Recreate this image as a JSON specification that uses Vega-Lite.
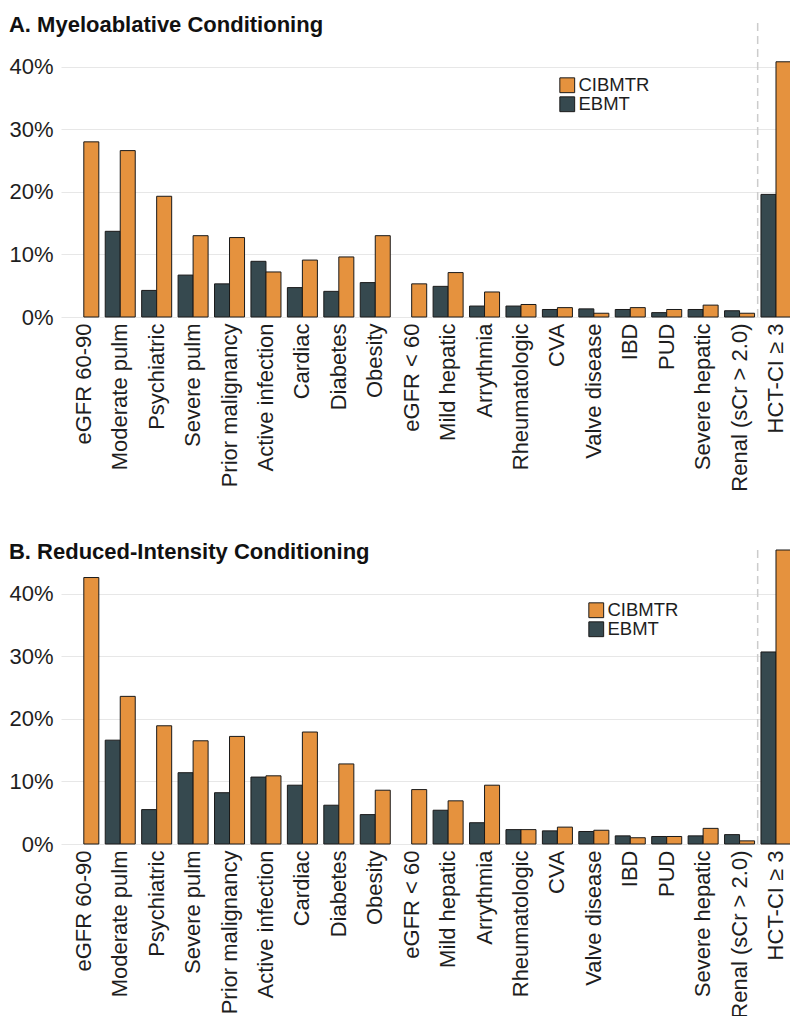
{
  "$schema": "https://vega.github.io/schema/vega-lite/v6.json",
  "autosize": {"type": "pad"},
  "padding": {"left": 8, "top": 14, "right": 0, "bottom": 0},
  "background": "white",
  "config": {
    "view": {"stroke": null},
    "font": "Liberation Sans",
    "axis": {"labelFont": "Liberation Sans", "labelColor": "#1e1e1e"},
    "legend": {"labelFont": "Liberation Sans"},
    "title": {"font": "Liberation Sans"}
  },
  "datasets": {
    "mac": [
      {"cat": "eGFR 60-90", "reg": "CIBMTR", "pct": 28.0},
      {"cat": "Moderate pulm", "reg": "EBMT", "pct": 13.7},
      {"cat": "Moderate pulm", "reg": "CIBMTR", "pct": 26.6},
      {"cat": "Psychiatric", "reg": "EBMT", "pct": 4.25},
      {"cat": "Psychiatric", "reg": "CIBMTR", "pct": 19.3},
      {"cat": "Severe pulm", "reg": "EBMT", "pct": 6.7},
      {"cat": "Severe pulm", "reg": "CIBMTR", "pct": 13.0},
      {"cat": "Prior malignancy", "reg": "EBMT", "pct": 5.3},
      {"cat": "Prior malignancy", "reg": "CIBMTR", "pct": 12.7},
      {"cat": "Active infection", "reg": "EBMT", "pct": 8.9},
      {"cat": "Active infection", "reg": "CIBMTR", "pct": 7.2},
      {"cat": "Cardiac", "reg": "EBMT", "pct": 4.7},
      {"cat": "Cardiac", "reg": "CIBMTR", "pct": 9.1},
      {"cat": "Diabetes", "reg": "EBMT", "pct": 4.1},
      {"cat": "Diabetes", "reg": "CIBMTR", "pct": 9.6},
      {"cat": "Obesity", "reg": "EBMT", "pct": 5.5},
      {"cat": "Obesity", "reg": "CIBMTR", "pct": 13.0},
      {"cat": "eGFR < 60", "reg": "CIBMTR", "pct": 5.3},
      {"cat": "Mild hepatic", "reg": "EBMT", "pct": 4.9},
      {"cat": "Mild hepatic", "reg": "CIBMTR", "pct": 7.1},
      {"cat": "Arrythmia", "reg": "EBMT", "pct": 1.75},
      {"cat": "Arrythmia", "reg": "CIBMTR", "pct": 4.0},
      {"cat": "Rheumatologic", "reg": "EBMT", "pct": 1.75},
      {"cat": "Rheumatologic", "reg": "CIBMTR", "pct": 2.0},
      {"cat": "CVA", "reg": "EBMT", "pct": 1.2},
      {"cat": "CVA", "reg": "CIBMTR", "pct": 1.5},
      {"cat": "Valve disease", "reg": "EBMT", "pct": 1.3},
      {"cat": "Valve disease", "reg": "CIBMTR", "pct": 0.6},
      {"cat": "IBD", "reg": "EBMT", "pct": 1.2},
      {"cat": "IBD", "reg": "CIBMTR", "pct": 1.5},
      {"cat": "PUD", "reg": "EBMT", "pct": 0.7},
      {"cat": "PUD", "reg": "CIBMTR", "pct": 1.2},
      {"cat": "Severe hepatic", "reg": "EBMT", "pct": 1.2},
      {"cat": "Severe hepatic", "reg": "CIBMTR", "pct": 1.9},
      {"cat": "Renal (sCr > 2.0)", "reg": "EBMT", "pct": 1.0},
      {"cat": "Renal (sCr > 2.0)", "reg": "CIBMTR", "pct": 0.6},
      {"cat": "HCT-CI ≥ 3", "reg": "EBMT", "pct": 19.6},
      {"cat": "HCT-CI ≥ 3", "reg": "CIBMTR", "pct": 40.8}
    ],
    "ric": [
      {"cat": "eGFR 60-90", "reg": "CIBMTR", "pct": 42.6},
      {"cat": "Moderate pulm", "reg": "EBMT", "pct": 16.6},
      {"cat": "Moderate pulm", "reg": "CIBMTR", "pct": 23.6},
      {"cat": "Psychiatric", "reg": "EBMT", "pct": 5.5},
      {"cat": "Psychiatric", "reg": "CIBMTR", "pct": 18.9},
      {"cat": "Severe pulm", "reg": "EBMT", "pct": 11.4},
      {"cat": "Severe pulm", "reg": "CIBMTR", "pct": 16.5},
      {"cat": "Prior malignancy", "reg": "EBMT", "pct": 8.2},
      {"cat": "Prior malignancy", "reg": "CIBMTR", "pct": 17.2},
      {"cat": "Active infection", "reg": "EBMT", "pct": 10.7},
      {"cat": "Active infection", "reg": "CIBMTR", "pct": 10.9},
      {"cat": "Cardiac", "reg": "EBMT", "pct": 9.4},
      {"cat": "Cardiac", "reg": "CIBMTR", "pct": 17.9},
      {"cat": "Diabetes", "reg": "EBMT", "pct": 6.2},
      {"cat": "Diabetes", "reg": "CIBMTR", "pct": 12.8},
      {"cat": "Obesity", "reg": "EBMT", "pct": 4.7},
      {"cat": "Obesity", "reg": "CIBMTR", "pct": 8.6},
      {"cat": "eGFR < 60", "reg": "CIBMTR", "pct": 8.7},
      {"cat": "Mild hepatic", "reg": "EBMT", "pct": 5.4},
      {"cat": "Mild hepatic", "reg": "CIBMTR", "pct": 6.9},
      {"cat": "Arrythmia", "reg": "EBMT", "pct": 3.4},
      {"cat": "Arrythmia", "reg": "CIBMTR", "pct": 9.4},
      {"cat": "Rheumatologic", "reg": "EBMT", "pct": 2.3},
      {"cat": "Rheumatologic", "reg": "CIBMTR", "pct": 2.3},
      {"cat": "CVA", "reg": "EBMT", "pct": 2.1},
      {"cat": "CVA", "reg": "CIBMTR", "pct": 2.7},
      {"cat": "Valve disease", "reg": "EBMT", "pct": 2.0},
      {"cat": "Valve disease", "reg": "CIBMTR", "pct": 2.2},
      {"cat": "IBD", "reg": "EBMT", "pct": 1.3},
      {"cat": "IBD", "reg": "CIBMTR", "pct": 1.0},
      {"cat": "PUD", "reg": "EBMT", "pct": 1.2},
      {"cat": "PUD", "reg": "CIBMTR", "pct": 1.2},
      {"cat": "Severe hepatic", "reg": "EBMT", "pct": 1.3},
      {"cat": "Severe hepatic", "reg": "CIBMTR", "pct": 2.5},
      {"cat": "Renal (sCr > 2.0)", "reg": "EBMT", "pct": 1.5},
      {"cat": "Renal (sCr > 2.0)", "reg": "CIBMTR", "pct": 0.5},
      {"cat": "HCT-CI ≥ 3", "reg": "EBMT", "pct": 30.7},
      {"cat": "HCT-CI ≥ 3", "reg": "CIBMTR", "pct": 47.0}
    ]
  },
  "vconcat": [
    {
      "width": 730,
      "height": 294,
      "title": {"text": "A. Myeloablative Conditioning", "anchor": "start", "frame": "bounds", "fontSize": 22, "fontWeight": "bold", "color": "#111", "offset": -15},
      "layer": [
        {
          "data": {"name": "mac"},
          "mark": {"type": "bar", "stroke": "#1a1a1a", "strokeWidth": 1},
          "encoding": {
            "x": {"field": "cat", "type": "nominal", "title": null,
              "scale": {"domain": ["eGFR 60-90", "Moderate pulm", "Psychiatric", "Severe pulm", "Prior malignancy", "Active infection", "Cardiac", "Diabetes", "Obesity", "eGFR < 60", "Mild hepatic", "Arrythmia", "Rheumatologic", "CVA", "Valve disease", "IBD", "PUD", "Severe hepatic", "Renal (sCr > 2.0)", "HCT-CI ≥ 3"], "paddingInner": 0.176, "paddingOuter": 0.107, "align": 1},
              "axis": {"labelAngle": -90, "labelFontSize": 22, "labelPadding": 6, "ticks": false, "domain": false, "grid": false, "labelOverlap": false}},
            "xOffset": {"field": "reg", "type": "nominal", "scale": {"domain": ["EBMT", "CIBMTR"], "paddingInner": 0, "paddingOuter": 0}},
            "y": {"field": "pct", "type": "quantitative", "title": null,
              "scale": {"domain": [0, 47], "nice": false},
              "axis": {"values": [0, 5, 10, 15, 20, 25, 30, 35, 40], "labelExpr": "datum.value % 10 === 0 ? datum.value + '%' : ''", "labelFontSize": 22, "labelPadding": 8, "ticks": false, "domain": false, "grid": true, "gridColor": {"condition": {"test": "datum.value % 10 === 0", "value": "#e7e7e7"}, "value": "#f1f1f1"}, "gridWidth": 1.2}},
            "color": {"field": "reg", "type": "nominal",
              "scale": {"domain": ["CIBMTR", "EBMT"], "range": ["#E5923E", "#36494F"]},
              "legend": {"title": null, "orient": "none", "legendX": 497, "legendY": 53, "symbolType": "square", "symbolSize": 220, "symbolStrokeColor": "#1a1a1a", "symbolStrokeWidth": 1, "labelFontSize": 18.5, "labelColor": "#1e1e1e", "labelOffset": 2, "rowPadding": -5, "padding": 0}}
          }
        },
        {
          "data": {"values": [{"cat": "HCT-CI ≥ 3", "top": 47}]},
          "mark": {"type": "rule", "strokeDash": [8, 5], "color": "#cccccc", "strokeWidth": 1.5},
          "encoding": {
            "x": {"field": "cat", "type": "nominal", "bandPosition": -0.11},
            "y": {"field": "top", "type": "quantitative"},
            "y2": {"datum": 0}
          }
        }
      ]
    },
    {
      "width": 730,
      "height": 294,
      "title": {"text": "B. Reduced-Intensity Conditioning", "anchor": "start", "frame": "bounds", "fontSize": 22, "fontWeight": "bold", "color": "#111", "offset": -15},
      "layer": [
        {
          "data": {"name": "ric"},
          "mark": {"type": "bar", "stroke": "#1a1a1a", "strokeWidth": 1},
          "encoding": {
            "x": {"field": "cat", "type": "nominal", "title": null,
              "scale": {"domain": ["eGFR 60-90", "Moderate pulm", "Psychiatric", "Severe pulm", "Prior malignancy", "Active infection", "Cardiac", "Diabetes", "Obesity", "eGFR < 60", "Mild hepatic", "Arrythmia", "Rheumatologic", "CVA", "Valve disease", "IBD", "PUD", "Severe hepatic", "Renal (sCr > 2.0)", "HCT-CI ≥ 3"], "paddingInner": 0.176, "paddingOuter": 0.107, "align": 1},
              "axis": {"labelAngle": -90, "labelFontSize": 22, "labelPadding": 6, "ticks": false, "domain": false, "grid": false, "labelOverlap": false}},
            "xOffset": {"field": "reg", "type": "nominal", "scale": {"domain": ["EBMT", "CIBMTR"], "paddingInner": 0, "paddingOuter": 0}},
            "y": {"field": "pct", "type": "quantitative", "title": null,
              "scale": {"domain": [0, 47], "nice": false},
              "axis": {"values": [0, 5, 10, 15, 20, 25, 30, 35, 40], "labelExpr": "datum.value % 10 === 0 ? datum.value + '%' : ''", "labelFontSize": 22, "labelPadding": 8, "ticks": false, "domain": false, "grid": true, "gridColor": {"condition": {"test": "datum.value % 10 === 0", "value": "#e7e7e7"}, "value": "#f1f1f1"}, "gridWidth": 1.2}},
            "color": {"field": "reg", "type": "nominal",
              "scale": {"domain": ["CIBMTR", "EBMT"], "range": ["#E5923E", "#36494F"]},
              "legend": {"title": null, "orient": "none", "legendX": 526, "legendY": 51, "symbolType": "square", "symbolSize": 220, "symbolStrokeColor": "#1a1a1a", "symbolStrokeWidth": 1, "labelFontSize": 18.5, "labelColor": "#1e1e1e", "labelOffset": 2, "rowPadding": -5, "padding": 0}}
          }
        },
        {
          "data": {"values": [{"cat": "HCT-CI ≥ 3", "top": 47}]},
          "mark": {"type": "rule", "strokeDash": [8, 5], "color": "#cccccc", "strokeWidth": 1.5},
          "encoding": {
            "x": {"field": "cat", "type": "nominal", "bandPosition": -0.11},
            "y": {"field": "top", "type": "quantitative"},
            "y2": {"datum": 0}
          }
        }
      ]
    }
  ],
  "spacing": 233,
  "bounds": "flush",
  "resolve": {"scale": {"x": "independent", "y": "independent", "color": "independent", "xOffset": "independent"}, "legend": {"color": "independent"}}
}
